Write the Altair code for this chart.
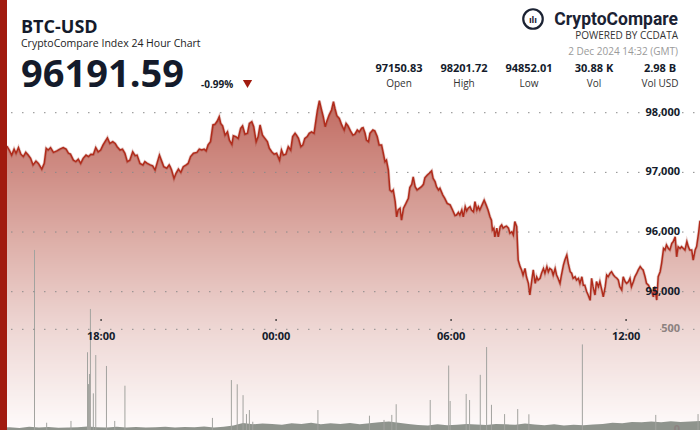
import altair as alt
import pandas as pd

# ---------------- data ----------------
# minutes since 1 Dec 2024 14:32 GMT, and BTC-USD index price
minutes = [0, 15, 19, 24, 29, 33, 38, 43, 48, 53, 58, 63, 68, 74, 79, 86, 91, 95, 99, 104, 110, 117, 123, 130, 136,
           141, 145, 151, 156, 161, 166, 171, 177, 182, 187, 192, 197, 202, 207, 212, 218, 221, 226, 232, 237, 241,
           247, 252, 257, 262, 267, 273, 278, 282, 288, 294, 298, 303, 309, 314, 319, 324, 328, 333, 337, 343, 348,
           350, 353, 358, 362, 367, 372, 377, 383, 387, 392, 398, 405, 410, 415, 420, 424, 428, 433, 438, 442, 447,
           451, 454, 458, 463, 468, 472, 477, 480, 485, 490, 495, 499, 504, 509, 513, 518, 522, 527, 531, 535, 540,
           545, 550, 554, 559, 564, 569, 575, 579, 583, 588, 593, 598, 602, 607, 610, 614, 619, 623, 627, 632, 636,
           641, 646, 650, 653, 657, 662, 665, 669, 672, 677, 682, 686, 689, 693, 698,
           703, 708, 712, 716, 721, 726, 730, 735, 739, 744, 747, 751, 754, 758, 761, 767, 771, 776, 780, 785, 788,
           792, 795, 799, 802, 806, 809, 813, 816, 819, 823, 826, 830, 835, 840, 843, 847, 850, 854, 858, 863, 867,
           871, 874, 879, 883, 888, 891, 895, 898, 902, 905, 911, 915, 920, 926, 931, 936, 939, 943, 946, 950, 953,
           957, 960, 963, 967, 970, 974, 977, 981, 984, 987, 993, 996, 1000, 1004, 1008, 1011, 1013, 1016, 1018,
           1022, 1025,
           1029, 1032, 1035, 1039, 1042, 1046, 1049, 1053, 1056, 1059, 1063, 1066, 1070, 1073, 1076, 1080, 1083,
           1087, 1090, 1094, 1097, 1101, 1104, 1107, 1111, 1114, 1118, 1121, 1125, 1128, 1131, 1135, 1138, 1142,
           1145, 1148, 1152, 1155, 1159, 1162, 1166, 1169, 1173, 1176, 1179, 1183, 1186, 1190, 1193, 1197, 1200,
           1203, 1207, 1210, 1214, 1217, 1220, 1224, 1227, 1231, 1234, 1238, 1241, 1245, 1248, 1251, 1255, 1258,
           1262, 1265, 1269, 1272, 1275, 1279, 1282, 1286, 1289, 1293, 1296, 1299, 1303, 1306, 1310, 1313, 1317,
           1320, 1323, 1327, 1330, 1334, 1337, 1341, 1344, 1347, 1351, 1354, 1358, 1361, 1365, 1368, 1371, 1375,
           1378, 1382, 1385, 1389, 1392, 1395, 1399, 1402, 1406, 1409, 1413, 1416, 1419, 1423, 1426, 1430, 1433,
           1437, 1440]
prices = [97420, 97430, 97375, 97290, 97390, 97320, 97415, 97305, 97265, 97335, 97290, 97235, 97125, 97190, 97150,
          97055, 97150, 97405, 97375, 97415, 97335, 97360, 97390, 97415, 97390, 97320, 97305, 97205, 97180, 97220,
          97150, 97235, 97290, 97265, 97305, 97300, 97415, 97345, 97375, 97460, 97540, 97580, 97485, 97515, 97485,
          97430, 97375, 97390, 97320, 97180, 97205, 97345, 97280, 97290, 97150, 97125, 97180, 97150, 97125, 97110,
          97040, 97180, 97290, 97180, 97095, 97070, 97125,
          97095, 97040, 96900, 96985, 97055, 97000, 97095, 97125, 97150, 97265, 97320, 97335, 97390, 97375, 97390,
          97360, 97460, 97515, 97795, 97805, 97860, 97935, 97820, 97780, 97625, 97680, 97540, 97470, 97615, 97600,
          97570, 97740, 97780, 97640, 97655, 97820, 97850, 97765, 97515, 97600, 97795, 97625, 97570, 97515, 97405,
          97345, 97305, 97320, 97205, 97375, 97290, 97305, 97430, 97375, 97600, 97655, 97625, 97570, 97430, 97460,
          97570, 97600, 97655, 97680, 97655, 97880, 98045, 98200, 98030, 97935, 97765, 97850, 97960, 98045, 98185,
          98075, 97950, 97905,
          97795, 97710, 97820, 97780, 97695, 97625, 97640, 97710, 97680, 97740, 97750, 97655, 97540, 97515, 97655,
          97710, 97695, 97600, 97460, 97460, 97345, 97180, 97205, 97040, 96705, 96675, 96705, 96510, 96255, 96370,
          96400, 96200, 96400, 96480, 96565, 96745, 96800, 96925, 96760, 96705, 96735, 96760, 96800, 96910, 96955,
          96985, 97025, 96900, 96845, 96760, 96705, 96735, 96620, 96565, 96480, 96455, 96370, 96275, 96285, 96330,
          96285, 96370, 96255, 96425, 96355, 96400, 96425, 96370, 96340, 96510, 96370, 96425, 96370, 96480, 96535,
          96455, 96370, 96255, 96200, 96035, 96065, 95920, 96065, 95920,
          96090, 96120, 96065, 96090, 96100, 96065, 95980, 96005, 95950, 96175, 96090, 95530, 95420, 95365, 95280,
          95390, 95250, 95140, 94945, 95195, 95365, 95140, 95250, 95195, 95225, 95310, 95390, 95310, 95420, 95335,
          95390, 95365, 95280, 95390, 95280, 95225, 95140, 95280, 95445, 95530, 95615, 95475, 95335, 95310, 95225,
          95250, 95195, 95225, 95140, 95250, 95110, 95110, 95000, 94945, 94855, 95225, 95085, 94945, 95170, 95085,
          95170, 95030, 94915, 95085, 95280, 95250, 95310, 95335, 95280, 95250, 95225, 95195, 95085, 95030, 95250,
          95170, 95140, 95170, 95225, 95085, 95170, 95250, 95310, 95365, 95420, 95390, 95365, 95250, 95140, 95110,
          95055, 95000, 94915, 95085, 94860, 95250, 95335, 95475, 95725, 95700, 95785, 95725, 95700, 95810, 95840,
          95920, 95585, 95755, 95725, 95755, 95725, 95700, 95840, 95755, 95700, 95700, 95530, 95700, 95755, 95980,
          96190]

# background volume level (BTC), one reading every 20 minutes
base_minutes = [0, 20, 40, 60, 80, 100, 120, 140, 160, 180, 200, 220, 240, 260, 280, 300, 320, 340, 360, 380, 400,
                420, 440, 460, 480, 500, 520, 540, 560, 580, 600, 620, 640, 660, 680, 700, 720, 740, 760, 780, 800,
                820, 840, 860, 880, 900, 920, 940, 960, 980, 1000, 1020, 1040, 1060, 1080, 1100, 1120, 1140, 1160,
                1180, 1200, 1220, 1240, 1260, 1280, 1300, 1320, 1340, 1360, 1380, 1400, 1420, 1440]
base_vol = [12, 14, 10, 16, 12, 15, 11, 13, 14,
            18, 14, 12, 16, 13, 15, 12, 14, 16, 13,
            15, 14, 17, 13, 16, 22,
            35, 28, 32, 30, 26, 34,
            30, 36, 28, 33, 30, 35, 29,
            34, 38, 42, 36, 30, 25,
            22, 28, 24, 26, 30, 27,
            25, 30, 28, 26, 32, 27,
            24, 28, 22, 26, 24, 27,
            30, 36, 34, 40, 38, 42,
            38, 44, 40, 42, 45]

# volume spikes
spike_minutes = [71, 96, 146, 180, 182, 184, 186, 192, 197, 219, 236, 257, 437, 476, 488, 500, 507, 513, 520, 654,
                 760, 790, 806, 815, 885, 923, 926, 959, 966, 988, 1001, 1011, 1038, 1065, 1088, 1198, 1349, 1436]
spike_vol = [894, 36, 45, 386, 228, 278, 601, 182, 372, 318, 45, 220, 60, 248, 227, 173, 79, 99, 41, 99,
             71, 50, 75, 128, 149, 320, 144, 179, 149, 274, 412, 125, 79, 104, 78, 425, 75, 79]

price_ticks = [95000, 96000, 97000, 98000]
price_tick_labels = ["95,000", "96,000", "97,000", "98,000"]
vol_ticks = [0, 500]
vol_tick_labels = ["0", "500"]
time_tick_minutes = [208, 568, 928, 1288]
time_tick_labels = ["18:00", "00:00", "06:00", "12:00"]

stat_values = ["97150.83", "98201.72", "94852.01", "30.88 K", "2.98 B"]
stat_names = ["Open", "High", "Low", "Vol", "Vol USD"]

# ---------------- chart ----------------
W, H = 700, 430
FONT = "Open Sans"
DARK = "#141b2b"
RED = "#a11b0f"
P_MIN, P_MAX = 92682, 99889

price_df = pd.DataFrame({"m": minutes, "p": prices})
base_df = pd.DataFrame({"m": base_minutes, "v": base_vol})
spike_df = pd.DataFrame({"m": spike_minutes, "v": spike_vol})
pgrid_df = pd.DataFrame({"p": price_ticks, "lab": price_tick_labels})
vgrid_df = pd.DataFrame({"v": vol_ticks, "lab": vol_tick_labels})
time_df = pd.DataFrame({"m": time_tick_minutes, "lab": time_tick_labels})
one = pd.DataFrame({"a": [0]})

xs = alt.Scale(domain=[0, 1440], nice=False, zero=False)
ys = alt.Scale(domain=[P_MIN, P_MAX], nice=False, zero=False)
vs = alt.Scale(domain=[0, 2135], nice=False, zero=False)

X = alt.X("m:Q", scale=xs, axis=None)
YP = alt.Y("p:Q", scale=ys, axis=None)
YV = alt.Y("v:Q", scale=vs, axis=None)

# --- background fill gradient (styling only): horizontal colour bands, masked white above the line ---
grad_stops = [(95, (192, 105, 95)), (250, (223, 179, 173)), (330, (238, 215, 212)), (430, (254, 251, 251))]


def band_colour(yy):
    for (ya, ca), (yb, cb) in zip(grad_stops[:-1], grad_stops[1:]):
        if yy <= yb:
            t = max(0.0, (yy - ya) / (yb - ya))
            return "#%02x%02x%02x" % tuple(int(round(a + (b - a) * t)) for a, b in zip(ca, cb))
    return "#%02x%02x%02x" % grad_stops[-1][1]


band_rows = []
for y0 in range(90, H, 2):
    band_rows.append({"y0": y0, "y1": y0 + 2, "c": band_colour(y0 + 1)})
bands_df = pd.DataFrame(band_rows)

bands = alt.Chart(bands_df).mark_rect(strokeWidth=0).encode(
    x=alt.value(0), x2=alt.value(W),
    y=alt.Y("y0:Q", scale=None, axis=None), y2=alt.Y2("y1:Q"),
    color=alt.Color("c:N", scale=None, legend=None))

mask = alt.Chart(price_df).mark_area(color="white", opacity=1).encode(
    x=X, y=YP, y2=alt.Y2(datum=P_MAX))

base = alt.Chart(base_df).mark_area(color="#8f948d").encode(x=X, y=YV)
spikes = alt.Chart(spike_df).mark_rule(color="#a2a39f", strokeWidth=1).encode(x=X, y=YV, y2=alt.Y2(datum=0))

pgrid = alt.Chart(pgrid_df).mark_rule(color="#8a8a8a", strokeDash=[1.5, 9.5], strokeWidth=1).encode(
    y=YP, x=alt.value(0), x2=alt.value(W))
vgrid = alt.Chart(vgrid_df[vgrid_df.v > 0]).mark_rule(color="#8a8a8a", strokeDash=[1.5, 9.5], strokeWidth=1).encode(
    y=YV, x=alt.value(0), x2=alt.value(W))

shadow = alt.Chart(price_df).mark_line(color="#8e1f12", strokeWidth=3, opacity=0.22).encode(x=X, y=YP)
line = alt.Chart(price_df).mark_line(color="#b02b1b", strokeWidth=1.5).encode(x=X, y=YP)

plabels = alt.Chart(pgrid_df).mark_text(align="right", baseline="middle", font=FONT, fontSize=11,
                                        fontWeight="bold", color=DARK).encode(
    y=YP, x=alt.value(680), text="lab:N")
vlabels = alt.Chart(vgrid_df).mark_text(align="right", baseline="middle", font=FONT, fontSize=11,
                                        fontWeight="bold", color="#8c8280").encode(
    y=YV, x=alt.value(680), text="lab:N")
tlabels = alt.Chart(time_df).mark_text(align="center", baseline="middle", font=FONT, fontSize=11,
                                       fontWeight="bold", color=DARK).encode(
    x=X, y=alt.value(337), text="lab:N")
tticks = alt.Chart(time_df).mark_square(size=3, color="#333333", opacity=1).encode(x=X, y=alt.value(320))

redbar = alt.Chart(one).mark_rect(color=RED).encode(
    x=alt.value(0), x2=alt.value(7), y=alt.value(0), y2=alt.value(H))


def txt(s, x, y, size, weight="normal", color=DARK, align="left", font=FONT):
    return alt.Chart(one).mark_text(text=s, align=align, baseline="alphabetic", font=font, fontSize=size,
                                    fontWeight=weight, color=color).encode(x=alt.value(x), y=alt.value(y))


header = [
    txt("BTC-USD", 21, 33, 18, "bold"),
    txt("CryptoCompare Index 24 Hour Chart", 21, 47, 10.5, "normal", "#222222"),
    txt("96191.59", 21, 87, 38, "bold"),
    txt("-0.99%", 201, 88, 10, "bold"),
    alt.Chart(one).mark_point(shape="triangle-down", filled=True, size=85, color=RED, opacity=1).encode(
        x=alt.value(247.5), y=alt.value(84)),
    txt("CryptoCompare", 678, 25, 17.5, "bold", "#1b2233", "right", "Roboto"),
    alt.Chart(one).mark_point(shape="circle", filled=False, size=380, strokeWidth=2.2, color="#1b2233",
                              opacity=1).encode(x=alt.value(533), y=alt.value(19)),
    txt("ılı", 533, 23, 9, "bold", "#1b2233", "center"),
    txt("POWERED BY CCDATA", 678, 39, 10, "normal", "#333333", "right"),
    txt("2 Dec 2024 14:32 (GMT)", 678, 55, 10, "normal", "#9a9a9a", "right"),
]
stat_x = [399, 464, 529, 594, 660]
for sx, sv, sn in zip(stat_x, stat_values, stat_names):
    header.append(txt(sv, sx, 72, 11, "bold", DARK, "center"))
    header.append(txt(sn, sx, 87, 10, "normal", "#333333", "center"))

chart = alt.layer(
    bands, mask, base, spikes, pgrid, vgrid, shadow, line, plabels, vlabels, tlabels, tticks, redbar, *header
).resolve_scale(y="independent").properties(
    width=W, height=H, padding=0, autosize=alt.AutoSizeParams(type="none"), background="white"
).configure_view(strokeWidth=0)

chart.save("out.html", embed_options={"renderer": "svg", "actions": False})
